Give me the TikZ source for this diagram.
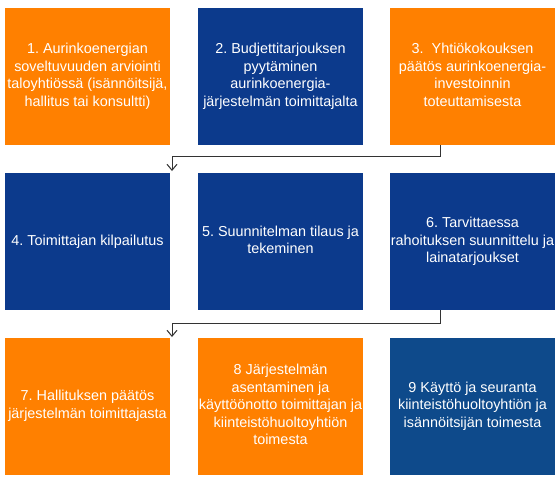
\documentclass[tikz,border=0pt]{standalone}
\usepackage{fontspec}
\setmainfont{Liberation Sans}
\usetikzlibrary{arrows.meta}
\frenchspacing
\definecolor{orangebox}{HTML}{FF8000}
\definecolor{bluebox}{HTML}{0C3A8C}
\definecolor{bluebox2}{HTML}{0E4A8B}
\definecolor{connector}{HTML}{333333}
\newcommand\boxtext[1]{\makebox[0pt]{\begin{tabular}{@{}c@{}}#1\end{tabular}}}
\tikzset{
  box/.style={minimum width=165pt, minimum height=137pt, inner sep=0pt,
    text=white, font=\fontsize{14.4pt}{17.5pt}\selectfont},
  obox/.style={box, fill=orangebox},
  bbox/.style={box, fill=bluebox},
  bbox2/.style={box, fill=bluebox2},
  conn/.style={draw=connector, line width=1pt,
    -{Straight Barb[length=6pt,width=10pt,line width=1pt]}}
}
\begin{document}
\begin{tikzpicture}[x=1pt,y=-1pt]
\useasboundingbox (0,0) rectangle (560,482);
\node[obox] (b1) at (87.5,76.5) {\boxtext{1. Aurinkoenergian\\soveltuvuuden arviointi\\taloyhtiössä (isännöitsijä,\\hallitus tai konsultti)}};
\node[bbox] (b2) at (280.5,76.5) {\boxtext{2. Budjettitarjouksen\\pyytäminen\\aurinkoenergia-\\järjestelmän toimittajalta}};
\node[obox] (b3) at (472.5,76.5) {\boxtext{3.\ \ Yhtiökokouksen\\päätös aurinkoenergia-\\investoinnin\\toteuttamisesta}};
\node[bbox] (b4) at (87.5,241.5) {\boxtext{4. Toimittajan kilpailutus}};
\node[bbox] (b5) at (280.5,241.5) {\boxtext{5. Suunnitelman tilaus ja\\tekeminen}};
\node[bbox] (b6) at (472.5,241.5) {\boxtext{6. Tarvittaessa\\rahoituksen suunnittelu ja\\lainatarjoukset}};
\node[obox] (b7) at (87.5,406) {\boxtext{7. Hallituksen päätös\\järjestelmän toimittajasta}};
\node[obox] (b8) at (280.5,406) {\boxtext{8 Järjestelmän\\asentaminen ja\\käyttöönotto toimittajan ja\\kiinteistöhuoltoyhtiön\\toimesta}};
\node[bbox2] (b9) at (472.5,406) {\boxtext{9 Käyttö ja seuranta\\kiinteistöhuoltoyhtiön ja\\isännöitsijän toimesta}};
\coordinate (k1) at (440,156);
\coordinate (t1) at (172,171);
\coordinate (k2) at (440,323);
\coordinate (t2) at (172,337);
\draw[conn] (b3.south -| k1) -- (k1) -| (t1);
\draw[conn] (b6.south -| k2) -- (k2) -| (t2);
\end{tikzpicture}
\end{document}
